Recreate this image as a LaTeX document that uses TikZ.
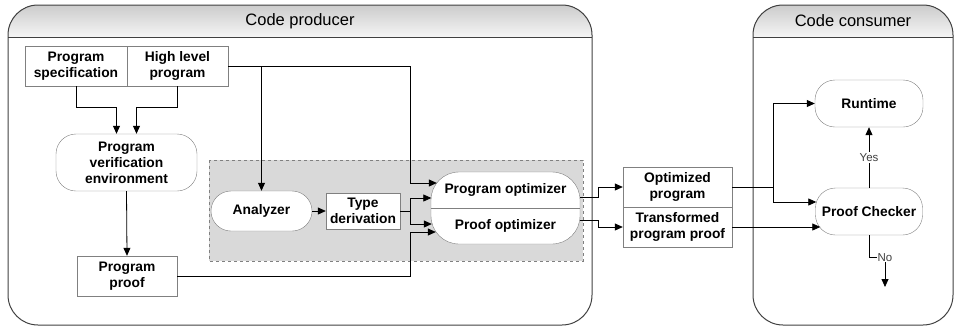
\documentclass[tikz,border=0pt]{standalone}
\usepackage{fontspec}
\setmainfont{Liberation Sans}
\usetikzlibrary{arrows.meta}

\begin{document}
\begin{tikzpicture}[x=1pt, y=-1pt,
    every node/.style={inner sep=0pt, align=center},
    box/.style={draw=gray, fill=white, font=\bfseries\fontsize{13.8}{16}\selectfont},
    term/.style={box, rounded corners=#1},
    frame/.style={draw=black!75, line width=1pt},
    arr/.style={draw=black, line width=0.8pt, -{Triangle[length=8pt, width=7pt]}},
    lbl/.style={fill=white, inner sep=1pt, text=black!75, font=\fontsize{11.5}{13}\selectfont},
    title/.style={font=\fontsize{16.5}{18}\selectfont}]
  \useasboundingbox (0,0) rectangle (956,327);
  \def\hd{37}
  \fill[top color=gray!40, bottom color=gray!8] (8,\hd) [rounded corners=30pt]-- (8,5) --
    (592,5) [sharp corners]-- (592,\hd) -- cycle;
  \draw[frame, rounded corners=30pt] (8,5) rectangle (592,325);
  \draw[frame] (8,\hd) -- (592,\hd);
  \fill[top color=gray!40, bottom color=gray!8] (753,\hd) [rounded corners=30pt]-- (753,5) --
    (953,5) [sharp corners]-- (953,\hd) -- cycle;
  \draw[frame, rounded corners=30pt] (753,5) rectangle (953,325);
  \draw[frame] (753,\hd) -- (953,\hd);
  \node[title] (prod) at (300,21) {Code producer};
  \node[title] (cons) at (853,21) {Code consumer};
  \draw[dashed, draw=gray, fill=gray!30] (209,160) rectangle (583,261);

  \node[box, minimum width=102pt, minimum height=40pt] (spec) at (76,66) {Program\\specification};
  \node[box, minimum width=101pt, minimum height=40pt] (hlp) at (177.5,66) {High level\\program};
  \node[term=20pt, minimum width=141pt, minimum height=57pt] (pve) at (126.5,162.5)
    {Program\\verification\\environment};
  \node[box, minimum width=100pt, minimum height=40pt] (proof) at (127,276) {Program\\proof};
  \node[term=20pt, minimum width=101pt, minimum height=40pt] (ana) at (261.5,211) {Analyzer};
  \node[box, minimum width=74pt, minimum height=36pt] (typ) at (363,211) {Type\\derivation};
  \node[term=28pt, minimum width=149pt, minimum height=72pt] (opt) at (505.5,208) {};
  \draw[gray] (opt.west) -- (opt.east);
  \node[font=\bfseries\fontsize{13.8}{16}\selectfont] (popt) at (505.5,190) {Program optimizer};
  \node[font=\bfseries\fontsize{13.8}{16}\selectfont] (fopt) at (505.5,226) {Proof optimizer};
  \node[box, minimum width=109pt, minimum height=40pt] (optp) at (677.5,187) {Optimized\\program};
  \node[box, minimum width=109pt, minimum height=40pt] (tpp) at (677.5,227) {Transformed\\program proof};
  \node[term=20pt, minimum width=108pt, minimum height=47pt] (run) at (869,103.5) {Runtime};
  \node[term=20pt, minimum width=107pt, minimum height=47pt] (chk) at (869,211.5) {Proof Checker};

  \coordinate (bus) at (410,0);
  \coordinate (split) at (773,0);
  \coordinate (in1) at ([shift={(6,-25)}]opt.west);
  \coordinate (in2) at ([shift={(0.5,-10)}]opt.west);
  \coordinate (in3) at ([shift={(1,16)}]opt.west);
  \coordinate (in4) at ([shift={(5,24)}]opt.west);
  \coordinate (out1) at ([shift={(0,-11)}]opt.east);
  \coordinate (out2) at ([shift={(0,12)}]opt.east);
  \coordinate (in5) at ([shift={(1,-9.5)}]chk.west);
  \coordinate (in6) at ([shift={(5,16)}]chk.west);
  \coordinate (noend) at (885,287);

  \draw[arr] (spec.south) -- ++(0,21) -| ([xshift=-10pt]pve.north);
  \draw[arr] (hlp.south) -- ++(0,21) -| ([xshift=10pt]pve.north);
  \draw[arr] (pve.south) -- (proof.north);
  \draw[arr] (hlp.east) -| (in1 -| bus) -- (in1);
  \draw[arr] (hlp.east -| ana.north) -- (ana.north);
  \draw[arr] (ana.east) -- (typ.west);
  \draw[arr] (typ.east) -- (typ.east -| bus) |- (in2);
  \draw[arr] (typ.east -| bus) |- (in3);
  \draw[arr] (proof.east) -| (in4 -| bus) -- (in4);
  \draw[arr] (out1) -- ++(18,0) |- (optp.west);
  \draw[arr] (out2) -- ++(18,0) |- (tpp.west);
  \draw[arr] (optp.east) -| (run.west -| split) -- (run.west);
  \draw[arr] (optp.east -| split) |- (in5);
  \draw[arr] (tpp.east) -- (tpp.east -| in6);
  \draw[arr] (chk.north) -- node[lbl] {Yes} (run.south);
  \draw[arr] (chk.south) -- ++(0,22) -| node[lbl] {No} (noend);
\end{tikzpicture}
\end{document}
